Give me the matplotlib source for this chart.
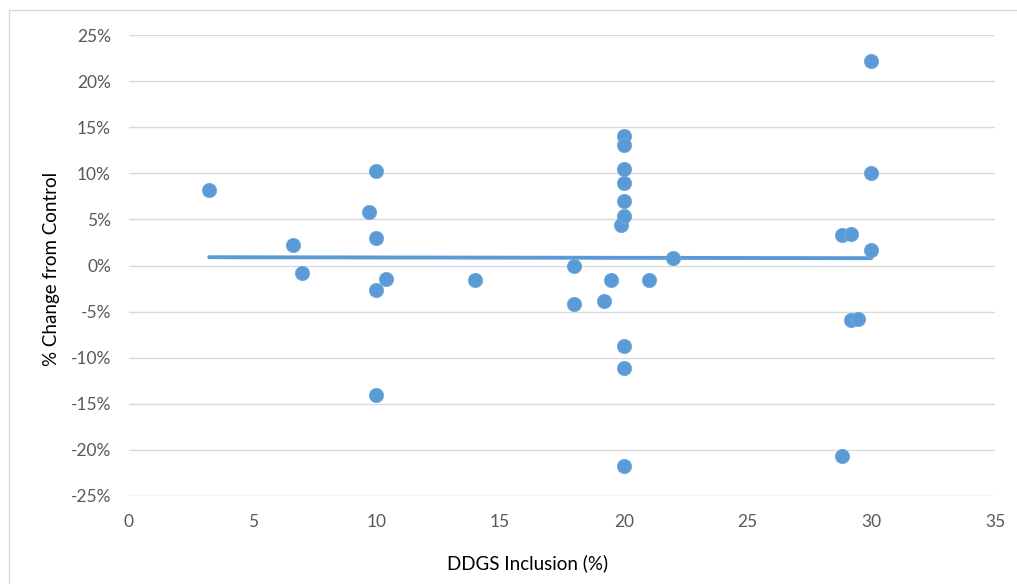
import numpy as np
import matplotlib
matplotlib.use("Agg")
import matplotlib.pyplot as plt
from matplotlib.ticker import FuncFormatter
from matplotlib.patches import Rectangle

plt.rcParams['font.family'] = ['Lato', 'DejaVu Sans']

# DDGS inclusion (%) and % change from control
ddgs = [3.24, 6.64, 7.0, 9.7, 10.0, 10.0, 10.0, 10.0, 10.4, 14.0,
        18.0, 18.0, 19.2, 19.5, 19.9, 20.0, 20.0, 20.0, 20.0, 20.0,
        20.0, 20.0, 20.0, 20.0, 21.0, 22.0, 28.8, 29.2, 28.8, 29.2,
        29.45, 30.0, 30.0, 30.0]
change = [8.2, 2.2, -0.8, 5.8, 10.2, 3.0, -2.65, -14.0, -1.5, -1.6,
          0.0, -4.2, -3.85, -1.6, 4.4, 14.0, 13.1, 10.5, 9.0, 7.0,
          5.4, -8.7, -11.15, -21.7, -1.6, 0.78, 3.3, 3.4, -20.7, -5.9,
          -5.8, 22.2, 10.0, 1.7]

x = np.array(ddgs)
y = np.array(change) / 100.0

blue = '#5B9BD5'
fig = plt.figure(figsize=(10.17, 5.84), dpi=100)
ax = fig.add_axes([129/1017, 1 - 496/584, (995-129)/1017, (496-35)/584])

# linear trendline
k, b = np.polyfit(x, y, 1)
xt = np.array([x.min(), x.max()])
ax.plot(xt, k*xt + b, color=blue, lw=2.8, solid_capstyle='round', zorder=2)

ax.scatter(x, y, s=105, color=blue, edgecolors='#6FA8DC', linewidths=0.6, zorder=3)

ax.set_xlim(0, 35)
ax.set_ylim(-0.25, 0.25)
ax.set_xticks(np.arange(0, 36, 5))
ax.set_yticks(np.arange(-0.25, 0.26, 0.05))
ax.yaxis.set_major_formatter(FuncFormatter(lambda v, p: '%d%%' % round(v*100)))
ax.grid(axis='y', color='#D9D9D9', lw=1)
ax.set_axisbelow(True)
for s in ax.spines.values():
    s.set_visible(False)
ax.tick_params(length=0, labelsize=12.5, labelcolor='#595959')
ax.tick_params(axis='y', pad=13)
ax.tick_params(axis='x', pad=13)

ax.set_xlabel('DDGS Inclusion (%)', fontsize=13.5)
ax.xaxis.set_label_coords((528-129)/866, -(554-496)/461, transform=ax.transAxes)
ax.set_ylabel('% Change from Control', fontsize=13.5)
ax.yaxis.set_label_coords(-(129-60)/866, (496-269)/461, transform=ax.transAxes)

fig.patches.append(Rectangle((9/1017, -0.05), 1.2, 1 - 10/584 + 0.05,
                             transform=fig.transFigure, fill=False,
                             edgecolor='#D9D9D9', lw=1))

fig.savefig('out.png', dpi=100)
